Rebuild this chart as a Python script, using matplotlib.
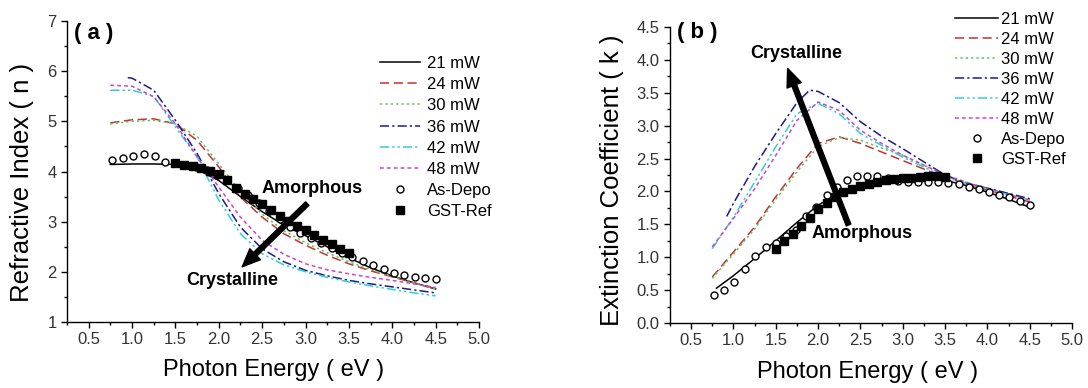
import numpy as np
import matplotlib
matplotlib.use("Agg")
import matplotlib.pyplot as plt
from matplotlib.ticker import MultipleLocator, FormatStrFormatter

plt.rcParams['font.family'] = ['Liberation Sans', 'DejaVu Sans']

# ---------------- data: panel (a) refractive index n ----------------
x_line = [0.75, 1.0, 1.25, 1.5, 1.75, 2.0, 2.25, 2.5, 2.75, 3.0, 3.25, 3.5, 3.75, 4.0, 4.25, 4.5]
n_21 = [4.14, 4.15, 4.15, 4.14, 4.04, 3.82, 3.50, 3.20, 2.93, 2.72, 2.50, 2.28, 2.08, 1.92, 1.78, 1.66]
n_24 = [4.97, 5.03, 5.05, 4.95, 4.62, 4.09, 3.49, 3.09, 2.76, 2.53, 2.33, 2.16, 2.02, 1.90, 1.78, 1.66]
n_30 = [4.95, 5.00, 5.02, 4.95, 4.70, 4.15, 3.60, 3.15, 2.82, 2.58, 2.38, 2.20, 2.04, 1.91, 1.78, 1.66]
x_36a = [0.95, 1.0, 1.25, 1.5, 1.75, 2.0, 2.25, 2.5, 2.75, 3.0, 3.25, 3.5, 3.75, 4.0, 4.25, 4.5]
n_36 = [5.87, 5.86, 5.62, 5.02, 4.36, 3.56, 2.89, 2.46, 2.20, 2.03, 1.92, 1.83, 1.76, 1.70, 1.64, 1.58]
n_42 = [5.62, 5.62, 5.50, 4.89, 4.29, 3.43, 2.76, 2.36, 2.14, 2.00, 1.89, 1.80, 1.72, 1.65, 1.58, 1.52]
n_48 = [5.72, 5.70, 5.49, 4.95, 4.29, 3.69, 3.09, 2.63, 2.35, 2.16, 2.04, 1.96, 1.89, 1.83, 1.76, 1.69]

x_asdepo = [0.77, 0.89, 1.01, 1.14, 1.26, 1.38, 1.50, 1.62, 1.74, 1.86, 1.98, 2.10, 2.22, 2.34, 2.46, 2.58,
            2.70, 2.82, 2.94, 3.06, 3.18, 3.30, 3.42, 3.54, 3.66, 3.78, 3.90, 4.02, 4.14, 4.26, 4.38, 4.50]
n_asdepo = [4.22, 4.27, 4.31, 4.34, 4.30, 4.18, 4.16, 4.13, 4.08, 4.02, 3.93, 3.83, 3.68, 3.53, 3.38, 3.22,
            3.06, 2.90, 2.77, 2.67, 2.57, 2.47, 2.38, 2.30, 2.22, 2.14, 2.06, 1.98, 1.94, 1.90, 1.87, 1.85]

x_gst = [1.5, 1.6, 1.7, 1.8, 1.9, 2.0, 2.1, 2.2, 2.3, 2.4, 2.5, 2.6, 2.7, 2.8, 2.9, 3.0, 3.1, 3.2, 3.3, 3.4, 3.5]
n_gst = [4.17, 4.13, 4.10, 4.06, 4.01, 3.95, 3.83, 3.68, 3.56, 3.45, 3.35, 3.23, 3.12, 3.02, 2.91, 2.83,
         2.73, 2.64, 2.55, 2.46, 2.37]

# ---------------- data: panel (b) extinction coefficient k ----------------
x_21b = [0.8, 1.0, 1.25, 1.5, 1.75, 2.0, 2.25, 2.5, 2.75, 3.0, 3.25, 3.5, 3.75, 4.0, 4.25, 4.5]
k_21 = [0.53, 0.72, 0.98, 1.25, 1.53, 1.79, 1.98, 2.11, 2.18, 2.21, 2.21, 2.17, 2.09, 1.99, 1.88, 1.76]
k_24 = [0.70, 1.08, 1.46, 1.92, 2.35, 2.73, 2.83, 2.73, 2.60, 2.47, 2.34, 2.22, 2.11, 2.02, 1.93, 1.84]
k_30 = [0.68, 1.05, 1.43, 1.88, 2.30, 2.68, 2.82, 2.78, 2.66, 2.55, 2.40, 2.25, 2.14, 2.05, 1.96, 1.87]
x_36b = [0.92, 1.0, 1.25, 1.5, 1.75, 1.9, 2.0, 2.25, 2.5, 2.75, 3.0, 3.25, 3.5, 3.75, 4.0, 4.25, 4.5]
k_36 = [1.62, 1.82, 2.38, 2.88, 3.35, 3.54, 3.52, 3.35, 3.06, 2.84, 2.65, 2.45, 2.25, 2.12, 2.05, 1.97, 1.89]
k_42 = [1.13, 1.61, 2.14, 2.68, 3.18, 3.34, 3.18, 2.88, 2.70, 2.52, 2.37, 2.22, 2.12, 2.04, 1.95, 1.87]
k_48 = [1.16, 1.59, 2.04, 2.55, 3.08, 3.36, 3.23, 2.93, 2.73, 2.55, 2.40, 2.25, 2.14, 2.04, 1.95, 1.87]

k_asdepo = [0.42, 0.50, 0.63, 0.82, 1.02, 1.15, 1.21, 1.32, 1.42, 1.62, 1.77, 1.95, 2.07, 2.17, 2.23, 2.24,
            2.23, 2.20, 2.16, 2.14, 2.14, 2.14, 2.14, 2.13, 2.11, 2.07, 2.04, 1.99, 1.94, 1.91, 1.86, 1.79]
k_gst = [1.12, 1.24, 1.35, 1.47, 1.59, 1.73, 1.83, 1.92, 1.99, 2.04, 2.08, 2.12, 2.15, 2.17, 2.19, 2.20,
         2.21, 2.22, 2.23, 2.23, 2.22]

labels = ['21 mW', '24 mW', '30 mW', '36 mW', '42 mW', '48 mW', 'As-Depo', 'GST-Ref']

c21, c24, c30, c36, c42, c48 = 'black', '#c83232', '#5ec45e', '#1c1c8a', '#2fcfd6', '#cc44cc'
ls21, ls24, ls30, ls36, ls42, ls48 = '-', (0, (6, 3)), (0, (1.5, 2)), (0, (6, 2, 1.5, 2)), (0, (6, 2, 1.5, 2, 1.5, 2)), (0, (2.5, 2))

W, H = 1088, 388
fig = plt.figure(figsize=(W / 100, H / 100), dpi=100)

def px_axes(l, r, t, b):
    return fig.add_axes([l / W, 1 - b / H, (r - l) / W, (b - t) / H])

axa = px_axes(67, 479, 21, 322)
axb = px_axes(670, 1072, 27, 323)

def style(ax):
    for s in ['top', 'right']:
        ax.spines[s].set_visible(False)
    ax.spines['left'].set_linewidth(1.0)
    ax.spines['bottom'].set_linewidth(1.0)
    ax.tick_params(which='major', direction='out', length=4, width=1, labelsize=12, labelcolor='#333333')
    ax.tick_params(which='minor', direction='out', length=2.5, width=1)
    ax.xaxis.set_major_locator(MultipleLocator(0.5))
    ax.xaxis.set_minor_locator(MultipleLocator(0.25))
    ax.xaxis.set_major_formatter(FormatStrFormatter('%.1f'))
    ax.set_xlim(0.25, 5.0)

def draw(ax, xs, series, xasd, yasd, xg, yg):
    handles = []
    for (xx, yy, c, ls) in zip(xs, series, [c21, c24, c30, c36, c42, c48],
                               [ls21, ls24, ls30, ls36, ls42, ls48]):
        h, = ax.plot(xx, yy, color=c, linestyle=ls, linewidth=1.1)
        handles.append(h)
    h, = ax.plot(xasd, yasd, 'o', mfc='white', mec='black', ms=5, mew=1.0, linestyle='none')
    handles.append(h)
    h, = ax.plot(xg, yg, 's', color='black', ms=6, linestyle='none')
    handles.append(h)
    return handles

# panel (a)
style(axa)
ha = draw(axa, [x_line, x_line, x_line, x_36a, x_line, x_line], [n_21, n_24, n_30, n_36, n_42, n_48],
          x_asdepo, n_asdepo, x_gst, n_gst)
axa.set_ylim(1, 7)
axa.yaxis.set_major_locator(MultipleLocator(1))
axa.yaxis.set_minor_locator(MultipleLocator(0.5))
axa.text(0.33, 6.75, '( a )', fontsize=16, fontweight='bold', va='center', ha='left')
axa.annotate('', xy=(2.27, 2.10), xytext=(3.02, 3.36),
             arrowprops=dict(facecolor='black', edgecolor='black', width=3.5, headwidth=11, headlength=13))
axa.text(3.08, 3.66, 'Amorphous', fontsize=13, fontweight='bold', ha='center', va='center')
axa.text(2.16, 1.83, 'Crystalline', fontsize=13, fontweight='bold', ha='center', va='center')

# panel (b)
style(axb)
hb = draw(axb, [x_21b, x_line, x_line, x_36b, x_line, x_line], [k_21, k_24, k_30, k_36, k_42, k_48],
          x_asdepo, k_asdepo, x_gst, k_gst)
axb.set_ylim(0, 4.5)
axb.yaxis.set_major_locator(MultipleLocator(0.5))
axb.yaxis.set_minor_locator(MultipleLocator(0.25))
axb.yaxis.set_major_formatter(FormatStrFormatter('%.1f'))
axb.text(0.33, 4.41, '( b )', fontsize=16, fontweight='bold', va='center', ha='left')
axb.annotate('', xy=(1.64, 3.87), xytext=(2.36, 1.49),
             arrowprops=dict(facecolor='black', edgecolor='black', width=3.5, headwidth=11, headlength=13))
axb.text(1.74, 4.10, 'Crystalline', fontsize=13, fontweight='bold', ha='center', va='center')
axb.text(2.52, 1.36, 'Amorphous', fontsize=13, fontweight='bold', ha='center', va='center')

# legends
fig.legend(ha, labels, loc='upper left', bbox_to_anchor=(380 / W, 1 - 56 / H), frameon=False,
           fontsize=12, handlelength=2.4, handletextpad=0.4, labelspacing=0.37, borderpad=0, borderaxespad=0)
fig.legend(hb, labels, loc='upper left', bbox_to_anchor=(955 / W, 1 - 12 / H), frameon=False,
           fontsize=12, handlelength=2.6, handletextpad=0.15, labelspacing=0.3, borderpad=0, borderaxespad=0)

# axis labels
fig.text(274 / W, 1 - 370 / H, 'Photon Energy ( eV )', fontsize=17, ha='center', va='center')
fig.text(868 / W, 1 - 372 / H, 'Photon Energy ( eV )', fontsize=17, ha='center', va='center')
fig.text(22 / W, 1 - 182 / H, 'Refractive Index ( n )', fontsize=18.5, ha='center', va='center', rotation=90)
fig.text(612 / W, 1 - 180 / H, 'Extinction Coefficient ( k )', fontsize=18.5, ha='center', va='center', rotation=90)

fig.savefig('out.png', dpi=100)
